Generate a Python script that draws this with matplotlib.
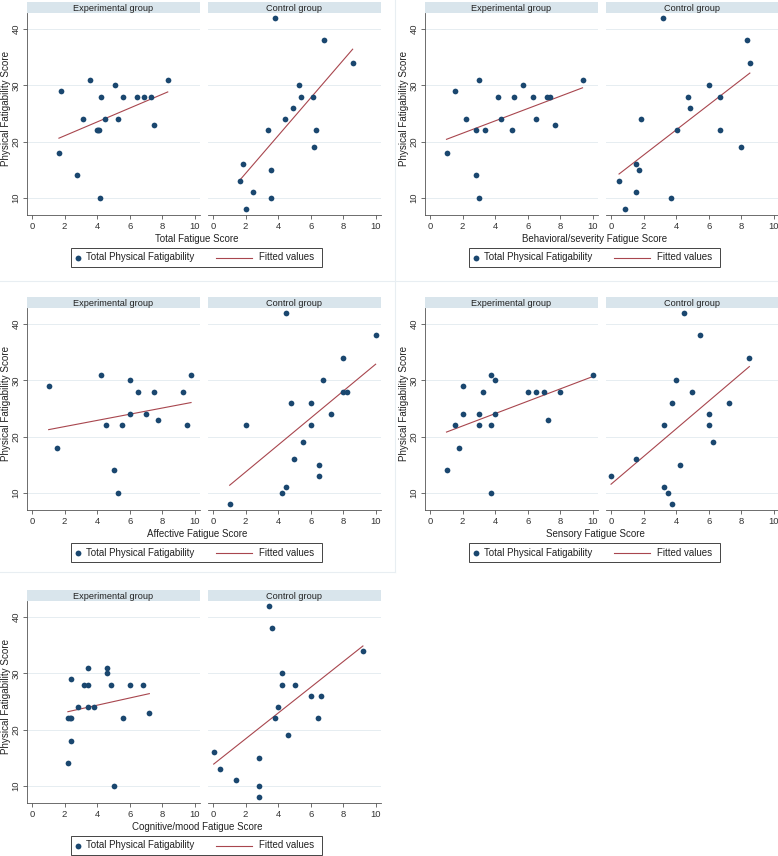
import numpy as np
import matplotlib

matplotlib.use('Agg')
from matplotlib import pyplot as plt
from matplotlib.lines import Line2D
from matplotlib.patches import Rectangle

plt.rcParams['font.family'] = ['Liberation Sans', 'DejaVu Sans']

W, H = 778, 856

NAVY = '#1a476f'
MAROON = '#a8464e'
STRIP = '#d9e5ec'
GRID = '#e6edf1'
AXIS = '#555555'

groups = ['Experimental group', 'Control group']

# panel 1 - total fatigue
total_exp_x = [1.65, 1.76, 2.73, 3.1, 3.53, 3.98, 4.05, 4.12, 4.22, 4.16, 4.49, 5.1, 5.27, 5.57, 6.47, 6.86, 7.31, 7.47, 8.33]
total_exp_y = [18, 29, 14, 24, 31, 22, 22, 22, 28, 10, 24, 30, 24, 28, 28, 28, 28, 23, 31]
total_ctl_x = [3.79, 6.84, 8.57, 5.27, 5.37, 6.15, 4.89, 4.42, 3.36, 6.31, 6.21, 1.85, 3.54, 1.63, 2.48, 3.54, 2.02]
total_ctl_y = [42, 38, 34, 30, 28, 28, 26, 24, 22, 22, 19, 16, 15, 13, 11, 10, 8]

# panel 2 - behavioral/severity
behav_exp_x = [1.01, 1.51, 2.19, 2.85, 3.01, 2.85, 3.01, 3.36, 4.19, 4.35, 5.01, 5.18, 5.69, 6.35, 6.52, 7.18, 7.36, 7.69, 9.36]
behav_exp_y = [18, 29, 24, 22, 31, 14, 10, 22, 28, 24, 22, 28, 30, 28, 24, 28, 28, 23, 31]
behav_ctl_x = [3.19, 8.37, 8.52, 6.03, 4.71, 6.69, 4.86, 1.85, 4.03, 6.69, 8.0, 1.52, 1.69, 0.49, 1.52, 3.68, 0.86]
behav_ctl_y = [42, 38, 34, 30, 28, 28, 26, 24, 22, 22, 19, 16, 15, 13, 11, 10, 8]

# panel 3 - affective
affect_exp_x = [1.02, 1.53, 4.24, 4.51, 5.0, 5.27, 5.51, 6.02, 6.02, 6.51, 7.0, 7.51, 7.76, 9.24, 9.51, 9.76]
affect_exp_y = [29, 18, 31, 22, 14, 10, 22, 30, 24, 28, 24, 28, 23, 28, 22, 31]
affect_ctl_x = [4.5, 9.98, 8.0, 6.74, 8.0, 8.25, 4.77, 6.01, 7.23, 2.02, 6.01, 5.5, 4.99, 6.5, 6.5, 4.5, 4.26, 1.02]
affect_ctl_y = [42, 38, 34, 30, 28, 28, 26, 26, 24, 22, 22, 19, 16, 15, 13, 11, 10, 8]

# panel 4 - sensory
sens_exp_x = [1.01, 1.51, 1.76, 2.0, 2.0, 3.0, 3.0, 3.26, 3.76, 3.76, 3.76, 4.0, 4.0, 6.01, 6.51, 7.0, 7.25, 8.0, 10.0]
sens_exp_y = [14, 22, 18, 29, 24, 24, 22, 28, 31, 22, 10, 30, 24, 28, 28, 28, 23, 28, 31]
sens_ctl_x = [4.49, 5.48, 8.49, 4.0, 4.99, 3.75, 7.24, 6.0, 3.26, 6.0, 6.25, 1.51, 4.25, 0.0, 3.26, 3.5, 3.75]
sens_ctl_y = [42, 38, 34, 30, 28, 26, 26, 24, 22, 22, 19, 16, 15, 13, 11, 10, 8]

# panel 5 - cognitive/mood
cog_exp_x = [2.2, 2.2, 2.3, 2.4, 2.41, 2.41, 2.82, 3.2, 3.41, 3.41, 3.41, 3.82, 4.61, 4.61, 4.82, 5.02, 5.61, 6.02, 6.8, 7.2]
cog_exp_y = [14, 22, 22, 22, 29, 18, 24, 28, 28, 31, 24, 24, 31, 30, 28, 10, 22, 28, 28, 23]
cog_ctl_x = [3.42, 3.63, 9.2, 4.22, 4.22, 5.01, 6.01, 6.6, 4.01, 3.81, 6.42, 4.62, 0.04, 2.81, 0.43, 1.43, 2.81, 2.81]
cog_ctl_y = [42, 38, 34, 30, 28, 28, 26, 26, 24, 22, 22, 19, 16, 15, 13, 11, 10, 8]

panels = [
    ('Total Fatigue Score', total_exp_x, total_exp_y, total_ctl_x, total_ctl_y),
    ('Behavioral/severity Fatigue Score', behav_exp_x, behav_exp_y, behav_ctl_x, behav_ctl_y),
    ('Affective Fatigue Score', affect_exp_x, affect_exp_y, affect_ctl_x, affect_ctl_y),
    ('Sensory Fatigue Score', sens_exp_x, sens_exp_y, sens_ctl_x, sens_ctl_y),
    ('Cognitive/mood Fatigue Score', cog_exp_x, cog_exp_y, cog_ctl_x, cog_ctl_y),
]
# left edge of y axis and pixel row of the "40" tick
anchors = [(27, 29), (425, 29), (27, 324), (425, 324), (27, 617)]

fig = plt.figure(figsize=(W / 100, H / 100), dpi=100)


def fx(x):
    return x / W


def fy(y):
    return 1 - y / H


def px_axes(x, y, w, h):
    return fig.add_axes([x / W, 1 - (y + h) / H, w / W, h / H])


def draw_panel(px, T, xlabel, ex, ey, cx, cy):
    for i, (xs, ys) in enumerate([(ex, ey), (cx, cy)]):
        x0 = px if i == 0 else px + 181
        ax = px_axes(x0, T - 16, 173, 202)
        ax.set_xlim(-0.31, 10.31)
        ax.set_ylim(6.98, 42.84)
        ax.set_xticks([0, 2, 4, 6, 8, 10])
        ax.set_yticks([10, 20, 30, 40])
        ax.grid(axis='y', color=GRID, lw=0.7)
        ax.set_axisbelow(True)
        for s in ['top', 'right']:
            ax.spines[s].set_visible(False)
        ax.spines['bottom'].set_color(AXIS)
        ax.spines['bottom'].set_linewidth(0.6)
        ax.tick_params(axis='x', labelsize=6.8, length=3, width=0.6, color=AXIS, pad=2,
                       labelcolor='#333333')
        if i == 0:
            ax.spines['left'].set_color(AXIS)
            ax.spines['left'].set_linewidth(0.6)
            ax.tick_params(axis='y', labelsize=6.8, length=3, width=0.6, color=AXIS, pad=1.5,
                           labelcolor='#333333')
            plt.setp(ax.get_yticklabels(), rotation=90, va='center')
        else:
            ax.spines['left'].set_visible(False)
            ax.tick_params(axis='y', left=False, labelleft=False)
        xs = np.array(xs, dtype=float)
        ys = np.array(ys, dtype=float)
        ax.scatter(xs, ys, s=17, color=NAVY, linewidths=0, zorder=3)
        b, a = np.polyfit(xs, ys, 1)
        xl = np.array([xs.min(), xs.max()])
        ax.plot(xl, a + b * xl, color=MAROON, lw=0.8, zorder=2)

        hx = px_axes(x0, T - 27, 173, 11)
        hx.set_facecolor(STRIP)
        hx.set_xticks([])
        hx.set_yticks([])
        for s in hx.spines.values():
            s.set_visible(False)
        hx.text(0.5, 0.45, groups[i], ha='center', va='center', fontsize=6.6,
                color='#222222', transform=hx.transAxes)

    fig.text(fx(px - 21), fy(T + 79), 'Physical Fatigability Score', rotation=90,
             ha='center', va='center', fontsize=7.1, color='#222222')
    fig.text(fx(px + 170), fy(T + 210), xlabel, ha='center', va='center',
             fontsize=7.0, color='#222222')

    # legend box
    fig.patches.append(Rectangle((fx(px + 44), fy(T + 238)), 251 / W, 19 / H,
                                 transform=fig.transFigure, facecolor='white',
                                 edgecolor='#444444', lw=0.7))
    yc = fy(T + 228.5)
    fig.lines.append(Line2D([fx(px + 51)], [yc], marker='o', ms=4.2, color=NAVY,
                            mew=0, ls='none', transform=fig.transFigure))
    fig.text(fx(px + 59), yc, 'Total Physical Fatigability', ha='left', va='center',
             fontsize=7.0, color='#222222')
    fig.lines.append(Line2D([fx(px + 189), fx(px + 225)], [yc, yc], color=MAROON, lw=0.8,
                            transform=fig.transFigure))
    fig.text(fx(px + 232), yc, 'Fitted values', ha='left', va='center',
             fontsize=7.0, color='#222222')


for (xlabel, ex, ey, cx, cy), (px, T) in zip(panels, anchors):
    draw_panel(px, T, xlabel, ex, ey, cx, cy)

# faint borders between the panel images
fig.lines.append(Line2D([fx(395), fx(395)], [fy(0), fy(572)], color='#e8eef2', lw=0.8,
                        transform=fig.transFigure))
fig.lines.append(Line2D([0, 1], [fy(281), fy(281)], color='#e8eef2', lw=0.8,
                        transform=fig.transFigure))
fig.lines.append(Line2D([0, fx(395)], [fy(572), fy(572)], color='#e8eef2', lw=0.8,
                        transform=fig.transFigure))

fig.savefig('out.png', dpi=100, facecolor='white')
